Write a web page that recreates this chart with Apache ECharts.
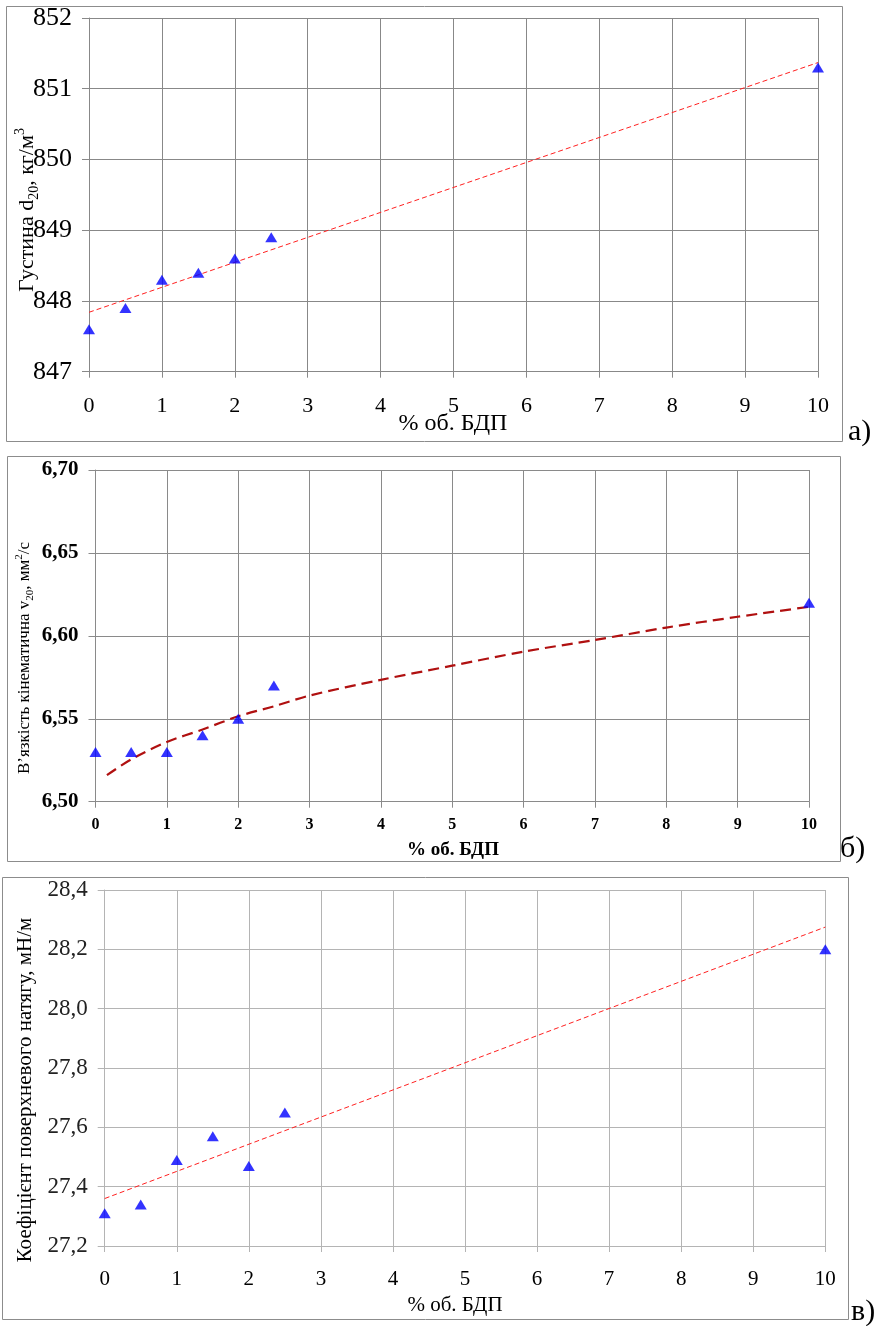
<!DOCTYPE html>
<html>
<head>
<meta charset="utf-8">
<script src="https://cdn.jsdelivr.net/npm/echarts@6/dist/echarts.min.js"></script>
<style>
html,body{margin:0;padding:0;background:#fff;}
#c{width:889px;height:1326px;}
</style>
</head>
<body>
<div id="c"></div>
<script>
// ---- data ----
var xPoints = [0, 0.5, 1, 1.5, 2, 2.5, 10];
var xTickLabels = ['0','1','2','3','4','5','6','7','8','9','10'];

// a) density
var densValues = [847.6, 847.9, 848.3, 848.4, 848.6, 848.9, 851.3];
var densTrendX = [0, 10];
var densTrendY = [847.84, 851.37];
var densTickLabels = ['847','848','849','850','851','852'];

// б) kinematic viscosity
var viscValues = [6.53, 6.53, 6.53, 6.54, 6.55, 6.57, 6.62];
var viscTrendX = [0.16, 0.5, 1, 1.5, 2, 2.5, 3, 4, 5, 6, 7, 8, 9, 10];
var viscTrendY = [6.516, 6.5255, 6.536, 6.5435, 6.5515, 6.5575, 6.564, 6.5735, 6.582, 6.5905, 6.5975, 6.605, 6.6115, 6.6175];
var viscTickLabels = ['6,50','6,55','6,60','6,65','6,70'];

// в) surface tension
var tensValues = [27.31, 27.34, 27.49, 27.57, 27.47, 27.65, 28.20];
var tensTrendX = [0, 10];
var tensTrendY = [27.36, 28.275];
var tensTickLabels = ['27,2','27,4','27,6','27,8','28,0','28,2','28,4'];

var FONT = "'Liberation Serif','Times New Roman',serif";

function pairs(xs, ys){ return xs.map(function(x,i){ return [x, ys[i]]; }); }
function tickFmt(labels, min, step){ return function(v){ var i = Math.round((v-min)/step); return labels[i] !== undefined ? labels[i] : ''; }; }

var chart = echarts.init(document.getElementById('c'), null, {renderer:'canvas'});

var grids = [
  {left:89, top:18, width:729, height:353.7},
  {left:95.5, top:470, width:713.5, height:331.7},
  {left:104.7, top:890, width:720.6, height:356}
];

function xAx(gi, color, fontSize, bold, margin){
  return {
    type:'value', gridIndex:gi, min:0, max:10, interval:1,
    axisLine:{show:true, lineStyle:{color:color, width:1}},
    axisTick:{show:true, length:6, lineStyle:{color:color}},
    splitLine:{show:true, lineStyle:{color:color, width:1}},
    axisLabel:{color:'#000', fontFamily:FONT, fontSize:fontSize, fontWeight: bold?'bold':'normal', margin:margin,
      formatter: tickFmt(xTickLabels, 0, 1)}
  };
}
function yAx(gi, min, max, step, labels, color, fontSize, bold, labelColor){
  return {
    type:'value', gridIndex:gi, min:min, max:max, interval:step,
    axisLine:{show:true, lineStyle:{color:color, width:1}},
    axisTick:{show:true, length:7, lineStyle:{color:color}},
    splitLine:{show:true, lineStyle:{color:color, width:1}},
    axisLabel:{color:labelColor||'#000', fontFamily:FONT, fontSize:fontSize, fontWeight: bold?'bold':'normal', margin:17,
      formatter: tickFmt(labels, min, step)}
  };
}

var tri = {symbol:'triangle', symbolSize:[12,10], itemStyle:{color:'#0000FF'}};

var option = {
  animation:false,
  backgroundColor:'#fff',
  grid: grids,
  xAxis: [
    xAx(0, '#888', 22, false, 24),
    xAx(1, '#8a8a8a', 16, true, 15),
    xAx(2, '#b4b4b4', 21, false, 23)
  ],
  yAxis: [
    yAx(0, 847, 852, 1, densTickLabels, '#888', 26, false),
    yAx(1, 6.5, 6.7, 0.05, viscTickLabels, '#8a8a8a', 21, true),
    yAx(2, 27.2, 28.4, 0.2, tensTickLabels, '#b4b4b4', 23, false, '#222')
  ],
  series: [
    {type:'line', xAxisIndex:0, yAxisIndex:0, data:pairs(densTrendX, densTrendY), symbol:'none',
      lineStyle:{color:'#FF2020', width:1, type:[5,3]}, z:2},
    Object.assign({type:'scatter', xAxisIndex:0, yAxisIndex:0, data:pairs(xPoints, densValues), z:3}, tri),
    {type:'line', xAxisIndex:1, yAxisIndex:1, data:pairs(viscTrendX, viscTrendY), symbol:'none', smooth:0.3,
      lineStyle:{color:'#B01010', width:2.2, type:[11,6]}, z:2},
    Object.assign({type:'scatter', xAxisIndex:1, yAxisIndex:1, data:pairs(xPoints, viscValues), z:3}, tri),
    {type:'line', xAxisIndex:2, yAxisIndex:2, data:pairs(tensTrendX, tensTrendY), symbol:'none',
      lineStyle:{color:'#FF2020', width:1, type:[5,3]}, z:2},
    Object.assign({type:'scatter', xAxisIndex:2, yAxisIndex:2, data:pairs(xPoints, tensValues), z:3}, tri)
  ],
  graphic: [
    // frames
    {type:'rect', shape:{x:6.5, y:6.5, width:836, height:435}, style:{fill:null, stroke:'#8c8c8c', lineWidth:1}, z:-1},
    {type:'rect', shape:{x:7.5, y:456.5, width:833, height:405}, style:{fill:null, stroke:'#8c8c8c', lineWidth:1}, z:-1},
    {type:'rect', shape:{x:2.5, y:877.5, width:846, height:442}, style:{fill:null, stroke:'#8c8c8c', lineWidth:1}, z:-1},
    // panel letters
    {type:'text', x:848, y:432, style:{text:'а)', font:'30px '+FONT, fill:'#000', verticalAlign:'middle', align:'left'}},
    {type:'text', x:840, y:849, style:{text:'б)', font:'30px '+FONT, fill:'#000', verticalAlign:'middle', align:'left'}},
    {type:'text', x:851, y:1312, style:{text:'в)', font:'30px '+FONT, fill:'#000', verticalAlign:'middle', align:'left'}},
    // x-axis titles
    {type:'text', x:453, y:424, style:{text:'% об. БДП', font:'24px '+FONT, fill:'#000', align:'center', verticalAlign:'middle'}},
    {type:'text', x:453, y:850, style:{text:'% об. БДП', font:'bold 19px '+FONT, fill:'#000', align:'center', verticalAlign:'middle'}},
    {type:'text', x:455, y:1305, style:{text:'% об. БДП', font:'21px '+FONT, fill:'#000', align:'center', verticalAlign:'middle'}},
    // y-axis titles
    {type:'text', x:27, y:210, rotation:Math.PI/2, style:{
      text:'{n|Густина d}{s|20}{n|, кг/м}{p|3}', align:'center', verticalAlign:'middle', fill:'#000',
      rich:{
        n:{fontFamily:FONT, fontSize:22, lineHeight:28, fill:'#000'},
        s:{fontFamily:FONT, fontSize:14, lineHeight:12, verticalAlign:'bottom', fill:'#000'},
        p:{fontFamily:FONT, fontSize:14, lineHeight:12, verticalAlign:'top', fill:'#000'}
      }}},
    {type:'text', x:25, y:658, rotation:Math.PI/2, style:{
      text:'{n|В’язкість кінематична v}{s|20}{n|, мм}{p|2}{n|/с}', align:'center', verticalAlign:'middle', fill:'#000',
      rich:{
        n:{fontFamily:FONT, fontSize:17, lineHeight:22, fill:'#000'},
        s:{fontFamily:FONT, fontSize:11, lineHeight:10, verticalAlign:'bottom', fill:'#000'},
        p:{fontFamily:FONT, fontSize:11, lineHeight:10, verticalAlign:'top', fill:'#000'}
      }}},
    {type:'text', x:25, y:1090, rotation:Math.PI/2, style:{
      text:'Коефіцієнт поверхневого натягу, мН/м', font:'21px '+FONT, fill:'#000', align:'center', verticalAlign:'middle'}}
  ]
};
chart.setOption(option);
</script>
</body>
</html>
